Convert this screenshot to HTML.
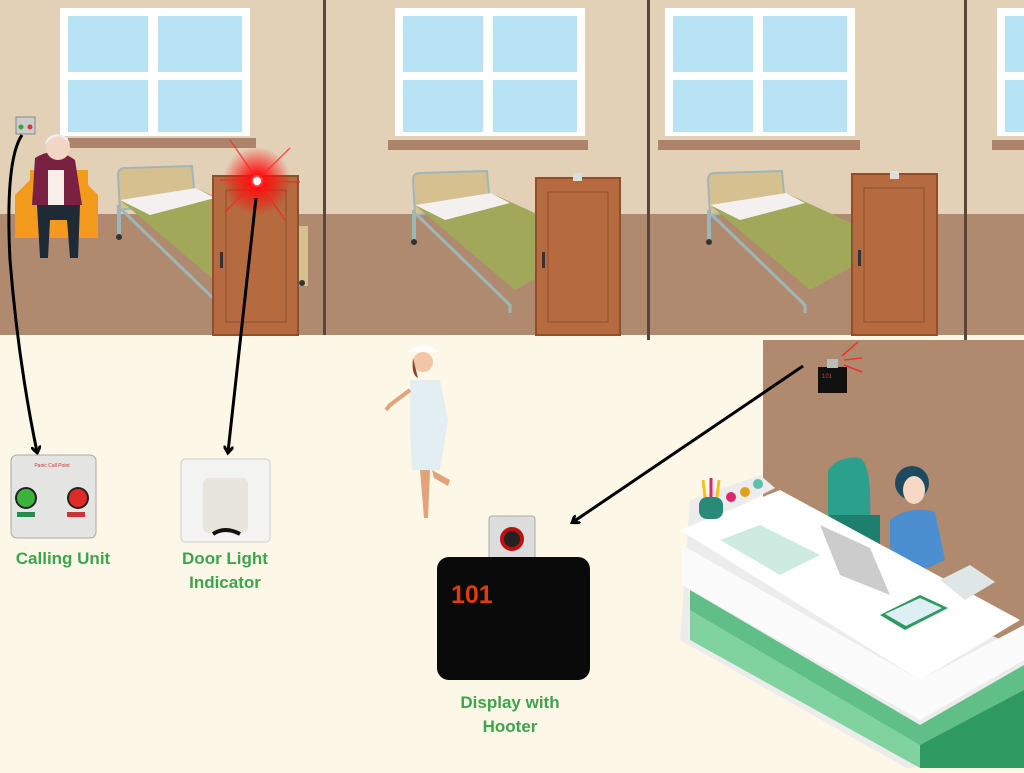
<!DOCTYPE html>
<html><head><style>
body{margin:0;width:1024px;height:768px;overflow:hidden;background:#fdf7e8;font-family:"Liberation Sans",sans-serif}
</style></head><body>
<svg width="1024" height="768" viewBox="0 0 1024 768" xmlns="http://www.w3.org/2000/svg">
<defs>
<marker id="ah" markerWidth="10" markerHeight="10" refX="6" refY="5" orient="auto" markerUnits="userSpaceOnUse"><path d="M0,0 L7,5 L0,10" fill="none" stroke="#000" stroke-width="3"/></marker>
<radialGradient id="glow"><stop offset="0" stop-color="#fff"/><stop offset="0.2" stop-color="#ff1010"/><stop offset="1" stop-color="#ff0000" stop-opacity="0"/></radialGradient>
</defs>
<rect width="1024" height="768" fill="#fdf7e8"/>
<rect x="0" y="0" width="1024" height="214" fill="#e2d1b6"/>
<rect x="0" y="214" width="1024" height="121" fill="#b08a6f"/>
<rect x="763" y="340" width="261" height="322" fill="#b08a6f"/>
<g fill="#5a4538"><rect x="323" y="0" width="3" height="335"/><rect x="647" y="0" width="3" height="340"/><rect x="964" y="0" width="3" height="340"/></g>
<g>
<rect x="60" y="8" width="190" height="128" fill="#fff"/><rect x="68" y="16" width="80" height="56" fill="#b8e3f5"/><rect x="158" y="16" width="84" height="56" fill="#b8e3f5"/><rect x="68" y="80" width="80" height="52" fill="#b8e3f5"/><rect x="158" y="80" width="84" height="52" fill="#b8e3f5"/><rect x="68" y="138" width="188" height="10" fill="#ad846b"/>
<rect x="395" y="8" width="190" height="128" fill="#fff"/><rect x="403" y="16" width="80" height="56" fill="#b8e3f5"/><rect x="493" y="16" width="84" height="56" fill="#b8e3f5"/><rect x="403" y="80" width="80" height="52" fill="#b8e3f5"/><rect x="493" y="80" width="84" height="52" fill="#b8e3f5"/><rect x="388" y="140" width="200" height="10" fill="#ad846b"/>
<rect x="665" y="8" width="190" height="128" fill="#fff"/><rect x="673" y="16" width="80" height="56" fill="#b8e3f5"/><rect x="763" y="16" width="84" height="56" fill="#b8e3f5"/><rect x="673" y="80" width="80" height="52" fill="#b8e3f5"/><rect x="763" y="80" width="84" height="52" fill="#b8e3f5"/><rect x="658" y="140" width="202" height="10" fill="#ad846b"/>
<rect x="997" y="8" width="30" height="128" fill="#fff"/><rect x="1005" y="16" width="20" height="56" fill="#b8e3f5"/><rect x="1005" y="80" width="20" height="52" fill="#b8e3f5"/><rect x="992" y="140" width="40" height="10" fill="#ad846b"/>
</g>
<g id="bed">
<path d="M118,175 Q118,168 125,168 L192,166 L195,200 L120,210 Z" fill="#d7c08f" stroke="#9fb6b8" stroke-width="2"/>
<path d="M120,200 L196,188 L305,238 L220,285 Z" fill="#a1a85a"/>
<path d="M120,200 L196,188 L215,198 L150,215 Z" fill="#f4f0f0"/>
<path d="M122,210 L215,300 L215,308" stroke="#9fb6b8" stroke-width="3" fill="none"/>
<rect x="117" y="205" width="4" height="30" fill="#9fb6b8"/><circle cx="119" cy="237" r="3" fill="#333"/>
<rect x="296" y="226" width="12" height="60" fill="#d7c08f"/><circle cx="302" cy="283" r="3" fill="#333"/>
</g>
<use href="#bed" transform="translate(295,5)"/>
<use href="#bed" transform="translate(590,5)"/>
<g fill="#b56a3f" stroke="#8f4f2c" stroke-width="2">
<rect x="213" y="176" width="85" height="159"/><rect x="536" y="178" width="84" height="157"/><rect x="852" y="174" width="85" height="161"/>
</g>
<g fill="none" stroke="#9c5733" stroke-width="1.5"><rect x="226" y="190" width="60" height="132"/><rect x="548" y="192" width="60" height="130"/><rect x="864" y="188" width="60" height="134"/></g>
<g fill="#333"><rect x="220" y="252" width="3" height="16"/><rect x="542" y="252" width="3" height="16"/><rect x="858" y="250" width="3" height="16"/></g>
<rect x="573" y="173" width="9" height="8" fill="#ddd"/><rect x="890" y="171" width="9" height="8" fill="#ddd"/>
<circle cx="257" cy="181" r="34" fill="url(#glow)"/>
<g stroke="#ff2020" stroke-width="1.5" opacity="0.7"><line x1="230" y1="140" x2="285" y2="220"/><line x1="290" y1="148" x2="225" y2="212"/><line x1="220" y1="180" x2="300" y2="182"/></g>
<circle cx="257" cy="181" r="4" fill="#fff"/>
<rect x="16" y="117" width="19" height="17" fill="#ccc" stroke="#888"/><circle cx="21" cy="127" r="2.5" fill="#3a3"/><circle cx="30" cy="127" r="2.5" fill="#d33"/>
<path d="M15,195 L30,180 L30,170 L88,170 L88,185 L98,195 L98,238 L15,238 Z" fill="#f29a1c"/>
<path d="M35,158 Q55,145 75,160 L82,205 L32,205 Z" fill="#7a2040"/>
<rect x="48" y="170" width="16" height="35" fill="#f8f0e8"/>
<circle cx="58" cy="148" r="12" fill="#f2d6c4"/><path d="M45,145 Q58,128 70,145 Q68,135 58,134 Q46,135 45,145Z" fill="#eee"/>
<path d="M37,205 L80,205 L78,258 L70,258 L67,220 L50,220 L48,258 L40,258 Z" fill="#1e2b36"/>
<circle cx="423" cy="362" r="10" fill="#f2c7a8"/><path d="M408,352 Q423,338 438,352Z" fill="#fff"/><path d="M413,358 Q411,375 418,378" fill="#8a4a2c"/>
<path d="M410,380 L440,380 L448,420 L440,470 L412,470 L410,430 Z" fill="#e3eef2"/>
<path d="M420,470 L430,470 L428,518 L424,518Z" fill="#e0a37a"/><path d="M432,470 L450,480 L448,486 L434,478Z" fill="#e0a37a"/>
<path d="M410,390 L390,405 L386,410" stroke="#e0a37a" stroke-width="4" fill="none"/>
<rect x="818" y="367" width="29" height="26" fill="#111"/><text x="822" y="378" font-size="6" fill="#e33">101</text><rect x="827" y="359" width="11" height="9" fill="#bbb"/>
<g stroke="#e33" stroke-width="1.5"><line x1="842" y1="356" x2="858" y2="342"/><line x1="844" y1="360" x2="862" y2="358"/><line x1="844" y1="365" x2="862" y2="372"/></g>
<path d="M828,470 Q840,455 860,458 Q872,465 870,520 L850,540 L828,530 Z" fill="#2ba08c"/>
<rect x="830" y="515" width="50" height="30" fill="#1f7f6f"/>
<circle cx="912" cy="483" r="17" fill="#1d4a5e"/><ellipse cx="914" cy="490" rx="11" ry="14" fill="#f6d8c4"/>
<path d="M890,520 Q910,505 935,512 L945,560 L890,585 Z" fill="#4b8fd0"/>
<path d="M690,500 L760,475 L775,488 L722,515 L1024,650 L1024,700 L910,770 L680,640 Z" fill="#ececec"/>
<path d="M682,545 L920,680 L1024,625 L1024,660 L920,720 L682,585 Z" fill="#fbfbfb"/>
<path d="M690,590 L920,725 L1024,665 L1024,700 L920,760 L690,630 Z" fill="#5fbf86"/>
<path d="M690,610 L920,745 L920,768 L690,640 Z" fill="#80d29e"/>
<path d="M920,745 L1024,690 L1024,768 L920,768Z" fill="#2f9a60"/>
<path d="M680,530 L780,490 L1020,620 L920,680 Z" fill="#fff"/>
<path d="M720,540 L760,525 L820,555 L780,575Z" fill="#cdebe0"/>
<path d="M820,525 L870,548 L890,595 L840,575Z" fill="#ccc"/>
<path d="M880,615 L920,595 L948,608 L905,630Z" fill="#2f9a60"/><path d="M885,614 L920,598 L942,608 L906,626Z" fill="#ddeef5"/>
<path d="M940,580 L970,565 L995,582 L965,600Z" fill="#dfe6e6"/>
<rect x="699" y="497" width="24" height="22" rx="8" fill="#2a8a78"/>
<g stroke-width="3"><line x1="705" y1="497" x2="703" y2="480" stroke="#f2c21c"/><line x1="711" y1="497" x2="711" y2="478" stroke="#e0266b"/><line x1="717" y1="497" x2="719" y2="480" stroke="#f2c21c"/></g>
<circle cx="731" cy="497" r="5" fill="#e0266b"/><circle cx="745" cy="492" r="5" fill="#e0a21c"/><circle cx="758" cy="484" r="5" fill="#5fbfa8"/>
<path d="M22,135 Q5,160 10,260 Q18,360 37,452" fill="none" stroke="#000" stroke-width="3" marker-end="url(#ah)"/>
<line x1="256" y1="198" x2="228" y2="452" stroke="#000" stroke-width="3" marker-end="url(#ah)"/>
<line x1="803" y1="366" x2="573" y2="522" stroke="#000" stroke-width="3" marker-end="url(#ah)"/>
<rect x="11" y="455" width="85" height="83" rx="6" fill="#e4e4e2" stroke="#aaa"/>
<text x="52" y="467" font-size="5" fill="#c33" text-anchor="middle">Panic Call Point</text>
<circle cx="26" cy="498" r="11" fill="#222"/><circle cx="26" cy="498" r="9" fill="#3cb43c"/>
<circle cx="78" cy="498" r="11" fill="#222"/><circle cx="78" cy="498" r="9" fill="#e02a2a"/>
<rect x="17" y="512" width="18" height="5" fill="#2a8a4a"/><rect x="67" y="512" width="18" height="5" fill="#c33"/>
<rect x="181" y="459" width="89" height="83" rx="4" fill="#f3f3f1" stroke="#ccc"/>
<rect x="203" y="478" width="45" height="55" rx="6" fill="#e8e6dc"/>
<path d="M213,534 Q225,526 240,534" stroke="#111" stroke-width="4" fill="none"/>
<rect x="489" y="516" width="46" height="46" rx="3" fill="#dcdcdc" stroke="#aaa"/><circle cx="512" cy="539" r="12" fill="#b11"/><circle cx="512" cy="539" r="8" fill="#222"/>
<rect x="437" y="557" width="153" height="123" rx="12" fill="#0a0a0a"/>
<text x="451" y="603" font-size="25" font-weight="bold" fill="#e03a10">101</text>
<g font-weight="bold" font-size="17" fill="#3fa34d" text-anchor="middle">
<text x="63" y="564">Calling Unit</text>
<text x="225" y="564">Door Light</text><text x="225" y="588">Indicator</text>
<text x="510" y="708">Display with</text><text x="510" y="732">Hooter</text>
</g>
</svg>
</body></html>
